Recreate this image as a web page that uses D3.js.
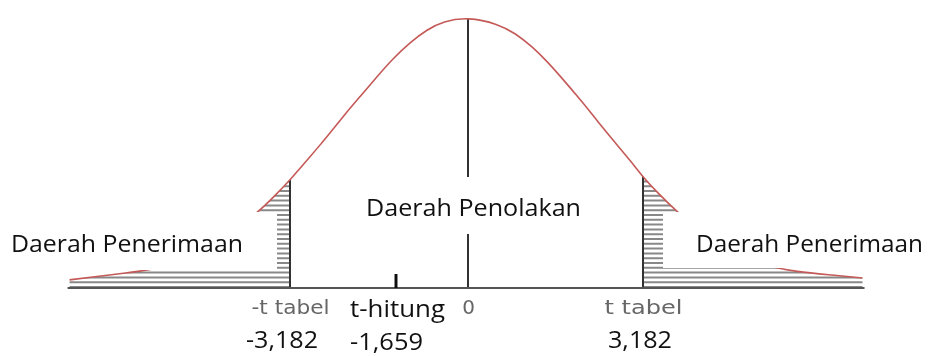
<!DOCTYPE html>
<html>
<head>
<meta charset="utf-8">
<script src="https://cdn.jsdelivr.net/npm/d3@7"></script>
<style>
  body { margin: 0; background: #fff; }
  svg { display: block; }
</style>
</head>
<body>
<div id="chart"></div>
<script>
// bell curve: position (z) and height relative to the peak
var curveZ = [-3.03, -2.85, -2.59, -2.42, -2.23, -2.04, -1.81, -1.60, -1.48, -1.35,
  -1.20, -1.07, -0.95, -0.82, -0.69, -0.57, -0.44, -0.31, -0.19, 0,
  0.23, 0.36, 0.49, 0.61, 0.74, 0.87, 0.99, 1.12, 1.25, 1.33,
  1.44, 1.60, 1.76, 1.99, 2.22, 2.51, 2.77, 3.00];
var curveH = [0.030, 0.041, 0.056, 0.067, 0.089, 0.130, 0.200, 0.278, 0.335, 0.400,
  0.485, 0.559, 0.633, 0.707, 0.781, 0.847, 0.907, 0.954, 0.984, 1.000,
  0.974, 0.940, 0.890, 0.832, 0.760, 0.686, 0.612, 0.536, 0.461, 0.410,
  0.352, 0.276, 0.211, 0.137, 0.085, 0.059, 0.048, 0.037];

// axis values and their labels
var tickValues = [-3.182, 0, 3.182];
var tickNames = ["-t tabel", "0", "t tabel"];
var criticalValues = [-3.182, 3.182];
var criticalLabels = ["-3,182", "3,182"];
var tHitung = -1.659;
var tHitungLabels = ["t-hitung", "-1,659"];
var regionNames = ["Daerah Penerimaan", "Daerah Penolakan", "Daerah Penerimaan"];

var width = 933,
    height = 356,
    baseY = 288;

var svg = d3.select("#chart").append("svg")
    .attr("width", width)
    .attr("height", height);

// curve scale (z) and axis scale (t); the axis in the drawing is not to scale
var xz = d3.scaleLinear().domain([-3, 3]).range([73.5, 862.5]);
var xt = d3.scaleLinear()
    .domain([criticalValues[0], tHitung, 0, criticalValues[1]])
    .range([290, 396, 468, 643]);
var y = d3.scaleLinear().domain([0, 1]).range([baseY, 17]);

var pts = curveZ.map(function (z, i) { return [z, curveH[i]]; });

var area = d3.area()
    .x(function (d) { return xz(d[0]); })
    .y0(baseY)
    .y1(function (d) { return y(d[1]); })
    .curve(d3.curveBasis);
var line = d3.line()
    .x(function (d) { return xz(d[0]); })
    .y(function (d) { return y(d[1]); })
    .curve(d3.curveBasis);

var defs = svg.append("defs");
defs.append("clipPath").attr("id", "under")
    .append("path").attr("d", area(pts));
defs.append("filter").attr("id", "soft")
    .append("feGaussianBlur").attr("stdDeviation", 0.5);

var g = svg.append("g").attr("filter", "url(#soft)");

// hatching in both tails
var left0 = xz(curveZ[0]) - 2,
    right1 = xz(curveZ[curveZ.length - 1]) + 2;
var bands = [[left0, xt(criticalValues[0])], [xt(criticalValues[1]), right1]];
var rows = d3.range(baseY - 1, y(0.45), -4.8);
var hatch = g.append("g").attr("clip-path", "url(#under)");
bands.forEach(function (b) {
    hatch.selectAll(null)
        .data(rows)
        .enter().append("line")
        .attr("x1", b[0]).attr("x2", b[1])
        .attr("y1", function (d) { return d; })
        .attr("y2", function (d) { return d; })
        .attr("stroke", "#888")
        .attr("stroke-width", 2);
});

// vertical lines at -t, 0 and t, cut off by the curve
g.append("g").attr("clip-path", "url(#under)")
    .selectAll("line")
    .data(tickValues)
    .enter().append("line")
    .attr("x1", function (d) { return xt(d); })
    .attr("x2", function (d) { return xt(d); })
    .attr("y1", baseY)
    .attr("y2", y(1.05))
    .attr("stroke", "#333")
    .attr("stroke-width", 2);

// base line
g.append("line")
    .attr("x1", left0).attr("x2", right1)
    .attr("y1", baseY).attr("y2", baseY)
    .attr("stroke", "#555")
    .attr("stroke-width", 2);

// the curve
g.append("path")
    .attr("d", line(pts))
    .attr("fill", "none")
    .attr("stroke", "#c45a58")
    .attr("stroke-width", 1.6);

// t-hitung mark
g.append("line")
    .attr("x1", xt(tHitung)).attr("x2", xt(tHitung))
    .attr("y1", baseY - 14).attr("y2", baseY)
    .attr("stroke", "#111")
    .attr("stroke-width", 3);

// gray tick labels under the axis
var axis = svg.append("g")
    .attr("transform", "translate(0," + baseY + ")")
    .attr("filter", "url(#soft)")
    .call(d3.axisBottom(xt)
        .tickValues(tickValues)
        .tickFormat(function (d, i) { return tickNames[i]; })
        .tickSize(0)
        .tickPadding(12));
axis.select(".domain").remove();
axis.selectAll("text")
    .attr("font-family", "'DejaVu Sans', sans-serif")
    .attr("font-size", 20)
    .attr("fill", "#666")
    .each(function (d, i) {
        if (tickNames[i].length > 1) {
            d3.select(this).attr("textLength", 78).attr("lengthAdjust", "spacingAndGlyphs");
        }
    });

// white label boxes over the chart
var boxes = [[0, 212, 277, 58], [358, 177, 231, 57], [663, 212, 270, 56]];
svg.selectAll(".box")
    .data(boxes)
    .enter().append("rect")
    .attr("class", "box")
    .attr("x", function (d) { return d[0]; })
    .attr("y", function (d) { return d[1]; })
    .attr("width", function (d) { return d[2]; })
    .attr("height", function (d) { return d[3]; })
    .attr("fill", "#fff");

function label(txt, x, yy, len, anchor) {
    svg.append("text")
        .attr("x", x)
        .attr("y", yy)
        .attr("text-anchor", anchor || "start")
        .attr("textLength", len)
        .attr("lengthAdjust", "spacingAndGlyphs")
        .style("font-family", "'Open Sans', sans-serif")
        .style("font-size", "23px")
        .style("fill", "#111")
        .text(txt);
}

label(regionNames[0], 11, 252, 232);
label(regionNames[1], 366, 216, 215);
label(regionNames[2], 696, 252, 227);

label(criticalLabels[0], xt(criticalValues[0]) + 28, 348, 72, "end");
label(criticalLabels[1], xt(criticalValues[1]) + 29, 348, 64, "end");

label(tHitungLabels[0], xt(tHitung) - 46, 317, 95);
label(tHitungLabels[1], xt(tHitung) + 27, 350, 73, "end");
</script>
</body>
</html>
